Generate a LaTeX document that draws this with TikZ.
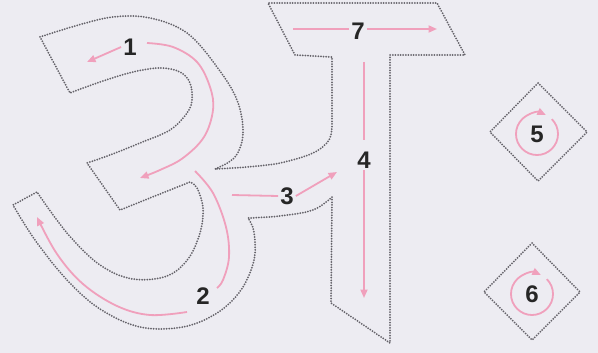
\documentclass[tikz,border=0pt]{standalone}
\usepackage{fontspec}
\setmainfont{Liberation Sans}
\usepackage{tikz}
\usetikzlibrary{arrows.meta}
\definecolor{paper}{RGB}{237,236,242}
\definecolor{dotgray}{RGB}{100,98,105}
\definecolor{tracepink}{RGB}{240,160,188}
\tikzset{
  outline/.style={draw=dotgray,line width=2pt,line cap=round,dash pattern=on 0pt off 2.6pt,line join=round},
  pen/.style={draw=tracepink,line width=1.8pt},
  penarrow/.style={pen,-{Triangle[length=8.5pt,width=7pt]}},
  num/.style={font=\fontsize{24}{24}\selectfont\bfseries,text=black!85,inner sep=2pt}
}
\begin{document}
\begin{tikzpicture}[x=1pt,y=-1pt]
  \fill[paper] (0,0) rectangle (598,353);
  \useasboundingbox (0,0) rectangle (598,353);

  % dotted outline of the letter
  \draw[outline] (40,37)
    -- plot[smooth,tension=0.6] coordinates {(40,37) (75,26) (113,17) (150,18) (187,33) (217,67) (237,100) (243,133) (235,157) (215,169)}
    -- plot[smooth,tension=0.6] coordinates {(215,169) (247,167) (280,163) (313,153) (329,140) (332,125)}
    -- (332,57) -- (295,55) -- (268,3) -- (437,3) -- (465,55) -- (390,55)
    -- (390,343) -- (331,303) -- (332,197)
    -- plot[smooth,tension=0.6] coordinates {(332,197) (313,210) (280,216) (248,218)}
    -- plot[smooth,tension=0.6] coordinates {(248,218) (254,232) (254,260) (241,290) (217,313) (183,327) (140,327) (100,309) (67,280) (35,240) (13,205)}
    -- (37,192)
    -- plot[smooth,tension=0.6] coordinates {(37,192) (67,233) (100,265) (133,279) (167,276) (188,259) (200,233) (203,208) (197,188) (190,182)}
    -- (120,210) -- (87,163)
    -- plot[smooth,tension=0.6] coordinates {(87,163) (110,155) (140,143) (170,130) (187,113) (192,100) (190,83) (180,72) (160,68) (133,72) (100,82) (70,93)}
    -- cycle;

  % the two diamonds
  \draw[outline] (538,83) -- (587,132) -- (538,181) -- (490,132) -- cycle;
  \draw[outline] (532,243) -- (580,292) -- (532,340) -- (484,292) -- cycle;

  % stroke numbers
  \node[num] (one) at (130,47) {1};
  \node[num] (two) at (203,296) {2};
  \node[num] (three) at (287,196) {3};
  \node[num] (four) at (364,160) {4};
  \node[num] (five) at (537,134) {5};
  \node[num] (six) at (532,294) {6};
  \node[num] (seven) at (358,31) {7};

  % stroke 1
  \draw[penarrow] (one.west) -- (87,62);
  \draw[penarrow] plot[smooth,tension=0.6] coordinates {(147,43) (173,47) (197,62) (210,87) (213,110) (204,137) (183,158) (160,170) (140,178)};
  % stroke 2
  \draw[pen] plot[smooth,tension=0.6] coordinates {(195,171) (213,193) (226,227) (229,257) (223,280) (217,288)};
  \draw[penarrow] plot[smooth,tension=0.6] coordinates {(187,312) (150,315) (117,306) (83,284) (57,254) (37,217)};
  % stroke 3
  \draw[pen] (232,195) -- (three.west);
  \draw[penarrow] (three.east) -- (337,172);
  % stroke 4
  \draw[pen] (364,62) -- (364,140);
  \draw[penarrow] (four.south) -- (364,298);
  % stroke 7
  \draw[pen] (293,29) -- ([yshift=2pt]seven.west);
  \draw[penarrow] ([yshift=2pt]seven.east) -- (437,29);
  % strokes 5 and 6
  \draw[penarrow] (five.center) ++(-45:21) arc[start angle=-45,end angle=295,radius=21];
  \draw[penarrow] (six.center) ++(-45:21) arc[start angle=-45,end angle=295,radius=21];
\end{tikzpicture}
\end{document}
